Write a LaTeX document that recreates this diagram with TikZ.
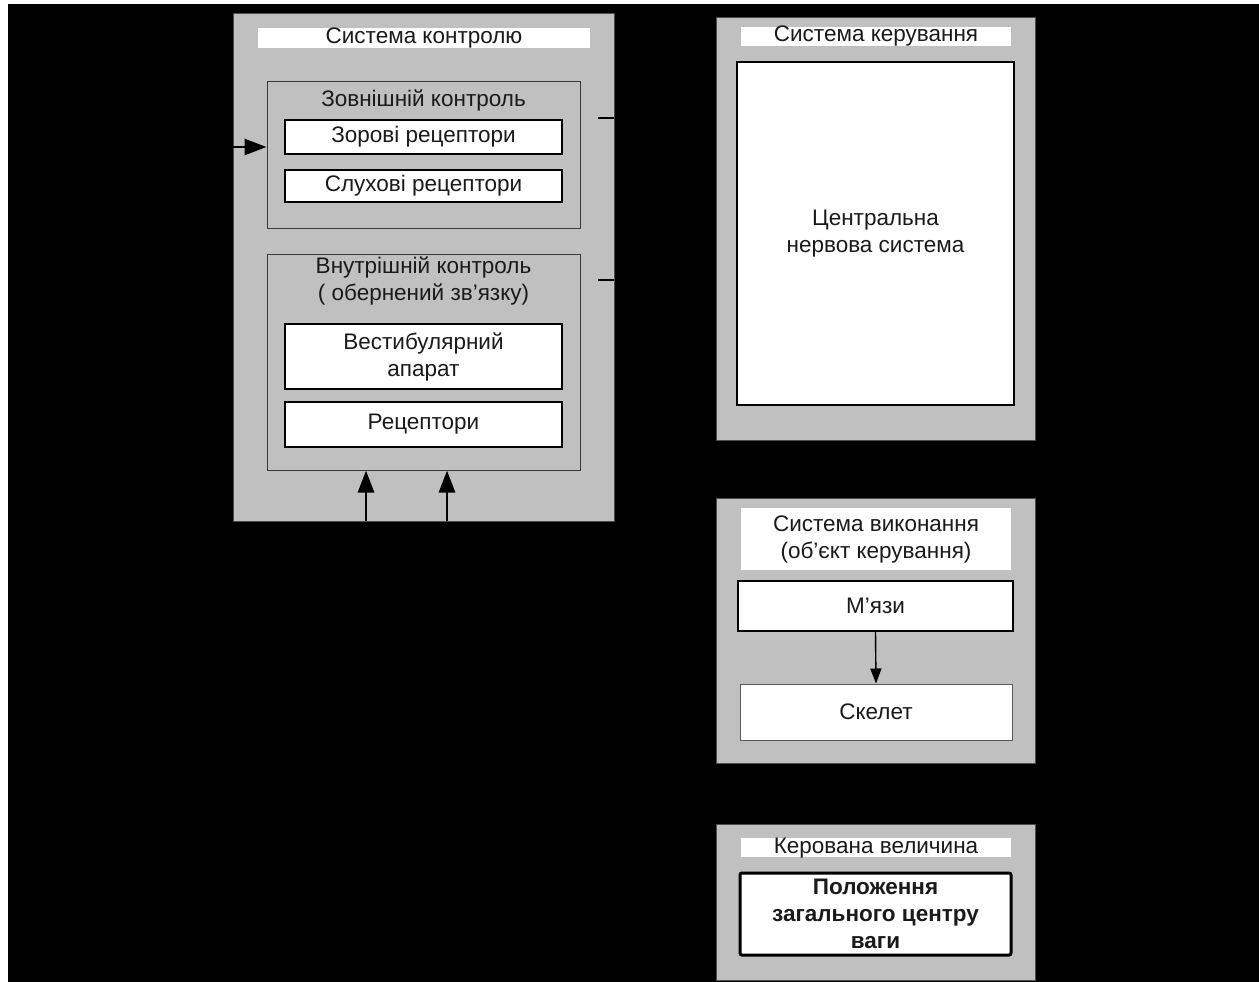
\documentclass[tikz,border=0pt]{standalone}
\usepackage{fontspec}
\setmainfont{Liberation Sans}
\usetikzlibrary{arrows.meta}
\definecolor{panel}{HTML}{C0C0C0}
\definecolor{txt}{HTML}{1A1A1A}
\begin{document}
\begin{tikzpicture}[x=1pt,y=-1pt,
  every node/.style={font=\fontsize{22.5}{27}\selectfont, text=txt, align=center, inner sep=0pt},
  panelbox/.style={rectangle, fill=panel, draw=gray!60!black, line width=0.8pt},
  groupbox/.style={rectangle, fill=panel, draw=gray!45!black, line width=1pt},
  titlestrip/.style={rectangle, fill=white, draw=none, text height=15pt, text depth=4pt},
  titleblock/.style={rectangle, fill=white, draw=none},
  itembox/.style={rectangle, fill=white, draw=black, line width=1.4pt},
  arr/.style={line width=2.8pt, -{Triangle[length=22pt,width=16pt]}},
  thinarr/.style={line width=1.4pt, -{Triangle[length=15pt,width=11pt]}},
  stub/.style={line width=2.8pt}]
% background
\fill[white] (0,0) rectangle (1259,982);
\fill[black] (8,4) rectangle (1259,982);
\useasboundingbox (0,0) rectangle (1259,982);

% ---- Control system ----
\node[panelbox, minimum width=381pt, minimum height=508pt] (ctrl) at (423.5,267) {};
\node[titlestrip, minimum width=332pt, minimum height=20pt] (ctrlT) at (424,38) {Система контролю};

\node[groupbox, minimum width=313pt, minimum height=146pt] (ext) at (423.5,155) {};
\node (extT) at (423.5,100) {Зовнішній контроль};
\node[itembox, minimum width=277pt, minimum height=34pt] (zor) at (423.5,137) {Зорові рецептори};
\node[itembox, minimum width=277pt, minimum height=32pt] (sluh) at (423.5,186) {Слухові рецептори};

\node[groupbox, minimum width=313pt, minimum height=216pt] (int) at (423.5,362) {};
\node (intT) at (423.5,281) {Внутрішній контроль\\( обернений зв'язку)};
\node[itembox, minimum width=277pt, minimum height=65pt] (vest) at (423.5,356.5) {Вестибулярний\\апарат};
\node[itembox, minimum width=277pt, minimum height=45pt] (rec) at (423.5,424.5) {Рецептори};

% ---- Management system ----
\node[panelbox, minimum width=319pt, minimum height=423pt] (mgmt) at (875.5,228.5) {};
\node[titlestrip, minimum width=270pt, minimum height=17pt] (mgmtT) at (876,36.5) {Система керування};
\node[itembox, line width=1.8pt, minimum width=277pt, minimum height=343pt] (cns) at (875.5,233.5) {Центральна\\нервова система};

% ---- Execution system ----
\node[panelbox, minimum width=319pt, minimum height=265pt] (exec) at (875.5,630.5) {};
\node[titleblock, minimum width=270pt, minimum height=62pt] (execT) at (876,539) {Система виконання\\(об'єкт керування)};
\node[itembox, minimum width=275pt, minimum height=50pt] (muscle) at (875.5,606) {М'язи};
\node[itembox, draw=gray!70!black, line width=1pt, minimum width=272pt, minimum height=56pt] (skel) at (876,712) {Скелет};

% ---- Controlled value ----
\node[panelbox, minimum width=319pt, minimum height=156pt] (val) at (875.5,902) {};
\node[titlestrip, minimum width=270pt, minimum height=17pt] (valT) at (876,847.5) {Керована величина};
\node[itembox, line width=3pt, rounded corners=2pt, minimum width=271pt, minimum height=82pt, font=\fontsize{22.5}{27}\selectfont\bfseries] (pos) at (875.5,914) {Положення\\загального центру\\ваги};

% ---- connectors ----
\coordinate (inL) at (233,147);
\draw[arr] (inL) -- (inL -| ext.west);
\coordinate (b1) at (366,521);
\coordinate (b2) at (447,521);
\draw[arr] (b1) -- (b1 |- int.south);
\draw[arr] (b2) -- (b2 |- int.south);
\coordinate (s1) at (598,118);
\coordinate (s2) at (598,280);
\draw[stub] (s1) -- (s1 -| ctrl.east);
\draw[stub] (s2) -- (s2 -| ctrl.east);
\draw[thinarr] (muscle.south) -- (skel.north);
\end{tikzpicture}
\end{document}
